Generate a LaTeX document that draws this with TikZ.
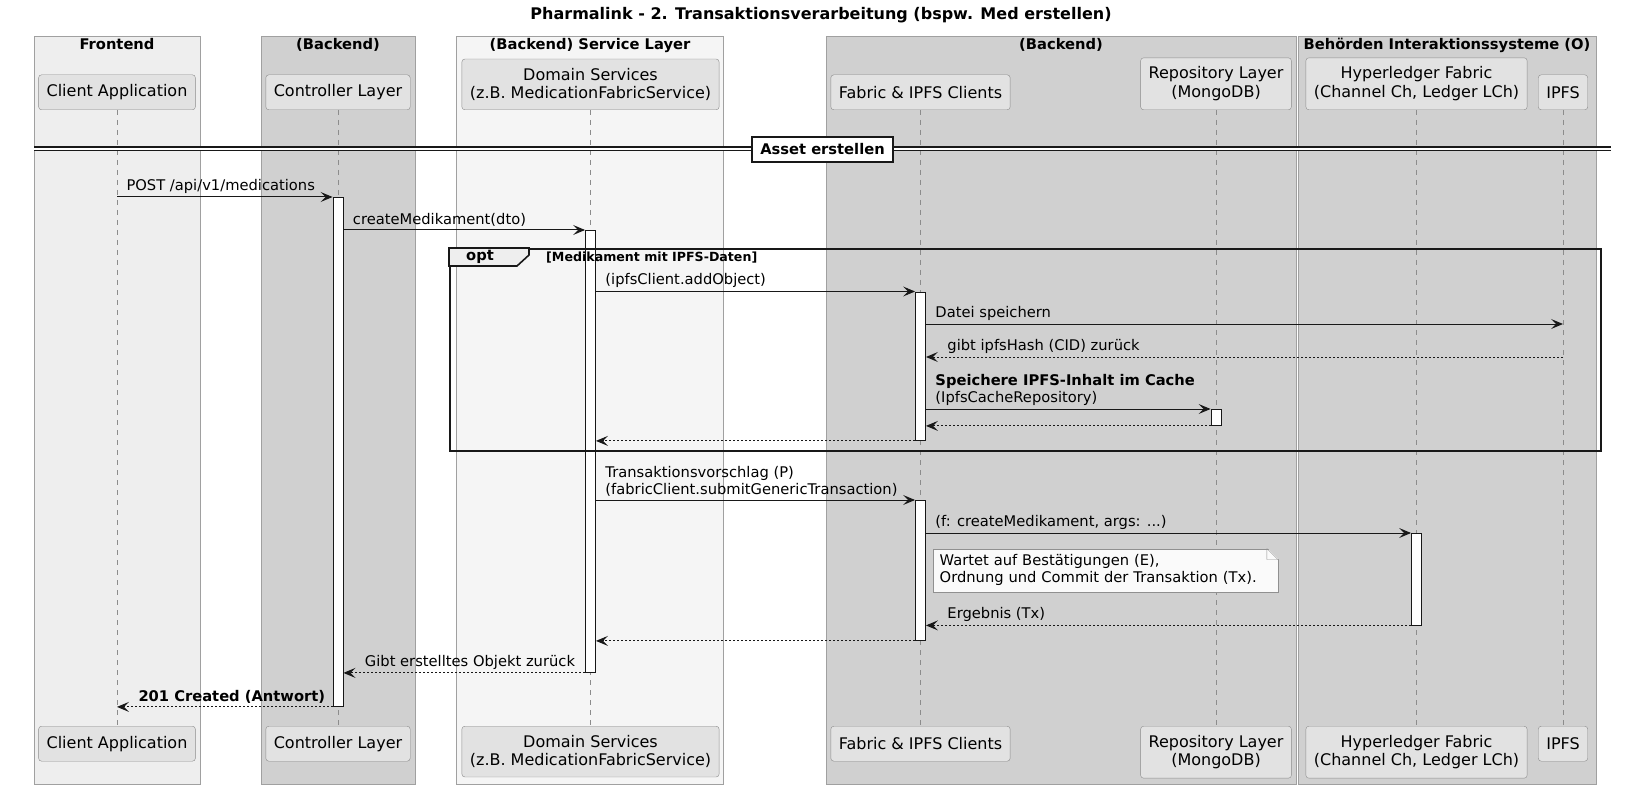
\documentclass[tikz,border=0pt]{standalone}
\usepackage{fontspec}
\setmainfont{DejaVu Sans}
\usepackage{tikz}
\usetikzlibrary{arrows.meta}

\definecolor{grpLight}{HTML}{EEEEEE}
\definecolor{grpDark}{HTML}{D0D0D0}
\definecolor{grpPale}{HTML}{F5F5F5}
\definecolor{grpLine}{HTML}{A0A0A0}
\definecolor{partFill}{HTML}{E2E2E2}
\definecolor{partLine}{HTML}{8C8C8C}
\definecolor{lifeLine}{HTML}{8C8C8C}
\definecolor{lineDark}{HTML}{181818}
\definecolor{noteFill}{HTML}{FAFAFA}
\definecolor{noteLine}{HTML}{909090}

\newcommand\partfont{\fontsize{16}{18.5}\selectfont}
\newcommand\msgfont{\fontsize{14.7}{17}\selectfont}
\newcommand\boldfont{\bfseries\fontsize{14.7}{17}\selectfont}

\begin{document}
\begin{tikzpicture}[x=1pt, y=-1pt,
    grp/.style={draw=grpLine, line width=0.8pt},
    gtitle/.style={font=\boldfont, inner sep=0, anchor=base},
    part/.style={draw=partLine, fill=partFill, rounded corners=3pt, font=\partfont,
      align=center, inner xsep=8pt, inner ysep=9pt, minimum height=35pt},
    life/.style={draw=lifeLine, line width=0.8pt, dash pattern=on 5pt off 5pt},
    act/.style={draw=lineDark, fill=white, line width=0.9pt, minimum width=10pt, inner sep=0},
    msg/.style={draw=lineDark, line width=1pt, -{Stealth[length=12pt, width=10pt, inset=5pt]}},
    ret/.style={msg, dash pattern=on 2pt off 2pt},
    lbl/.style={anchor=south west, font=\msgfont, inner sep=0, align=left, yshift=3pt},
    lto/.style={lbl, pos=0, xshift=9pt},
    lback/.style={lbl, pos=1, xshift=21pt},
    frame/.style={draw=lineDark, line width=1.6pt},
    note/.style={draw=noteLine, fill=noteFill, font=\msgfont, align=left,
      text width=331pt, inner xsep=7pt, inner ysep=6pt}]
  \path[fill=white, use as bounding box] (0,0) rectangle (1632,802);

  \node[font=\bfseries\fontsize{16}{19}\selectfont, inner sep=0, anchor=base] (title) at (821,19.5)
    {Pharmalink - 2. Transaktionsverarbeitung (bspw. Med erstellen)};

  \draw[grp, fill=grpLight] (34,36) rectangle (200,784);
  \draw[grp, fill=grpDark] (261,36) rectangle (415,784);
  \draw[grp, fill=grpPale] (456.5,36) rectangle (723.5,784);
  \draw[grp, fill=grpDark] (826,36) rectangle (1296,784);
  \draw[grp, fill=grpDark] (1298.5,36) rectangle (1596,784);
  \node[gtitle] (gfront) at (117,49.5) {Frontend};
  \node[gtitle] (gback) at (338,49.5) {(Backend)};
  \node[gtitle] (gsvc) at (590,49.5) {(Backend) Service Layer};
  \node[gtitle] (gbackb) at (1061,49.5) {(Backend)};
  \node[gtitle] (gauth) at (1447,49.5) {Behörden Interaktionssysteme (O)};

  \node[part, anchor=south] (topcli) at (117,110) {Client Application};
  \node[part, anchor=south] (topctl) at (338,110) {Controller Layer};
  \node[part, anchor=south] (topdom) at (590.5,110) {Domain Services\\(z.B. MedicationFabricService)};
  \node[part, anchor=south] (topfab) at (920.5,110) {Fabric \& IPFS Clients};
  \node[part, anchor=south] (toprep) at (1216,110) {Repository Layer\\(MongoDB)};
  \node[part, anchor=south] (tophlf) at (1416.5,110) {Hyperledger Fabric\\(Channel Ch, Ledger LCh)};
  \node[part, anchor=south] (topipf) at (1563,110) {IPFS};
  \node[part, anchor=north] (botcli) at (117,726) {Client Application};
  \node[part, anchor=north] (botctl) at (338,726) {Controller Layer};
  \node[part, anchor=north] (botdom) at (590.5,726) {Domain Services\\(z.B. MedicationFabricService)};
  \node[part, anchor=north] (botfab) at (920.5,726) {Fabric \& IPFS Clients};
  \node[part, anchor=north] (botrep) at (1216,726) {Repository Layer\\(MongoDB)};
  \node[part, anchor=north] (bothlf) at (1416.5,726) {Hyperledger Fabric\\(Channel Ch, Ledger LCh)};
  \node[part, anchor=north] (botipf) at (1563,726) {IPFS};
  \draw[life] (topcli) -- (botcli);
  \draw[life] (topctl) -- (botctl);
  \draw[life] (topdom) -- (botdom);
  \draw[life] (topfab) -- (botfab);
  \draw[life] (toprep) -- (botrep);
  \draw[life] (tophlf) -- (bothlf);
  \draw[life] (topipf) -- (botipf);

  \coordinate (divl) at (34,149);
  \coordinate (divr) at (1611,149);
  \draw[draw=lineDark, line width=1.2pt, double=white, double distance=2.6pt] (divl) -- (divr);
  \node[draw=lineDark, line width=2pt, fill=white, font=\boldfont, inner xsep=8pt,
    minimum height=25pt] (div) at (822.5,149.5) {Asset erstellen};

  \node[act, minimum height=509pt, anchor=north] (actctl) at (338,197) {};
  \node[act, minimum height=442pt, anchor=north] (actdom) at (590.5,230) {};
  \node[act, minimum height=148.5pt, anchor=north] (actfab) at (920.5,291.5) {};
  \node[act, minimum height=16pt, anchor=north] (actrep) at (1216,409) {};
  \node[act, minimum height=140pt, anchor=north] (actfabb) at (920.5,500) {};
  \node[act, minimum height=91.5pt, anchor=north] (acthlf) at (1416.5,533) {};
  \coordinate (save) at (0,324);
  \coordinate (hash) at (0,357);

  \node[frame, minimum width=1151pt, minimum height=202pt, anchor=north west] (opt) at (449,248) {};
  \draw[frame, fill=grpLight] (opt.north west) -- ++(80,0) -- ++(0,7) -- ++(-12,11) -- ++(-68,0) -- cycle;
  \node[font=\boldfont, inner sep=0] (optlbl) at (480,257) {opt};
  \node[font=\bfseries\fontsize{12.6}{15}\selectfont, inner sep=0, anchor=west] (optcond)
    at (546,257.5) {[Medikament mit IPFS-Daten]};

  \draw[msg] (topcli.south |- actctl.north) -- (actctl.north west)
    node[lto] {POST /api/v1/medications};
  \draw[msg] (actctl.east |- actdom.north) -- (actdom.north west)
    node[lto] {createMedikament(dto)};
  \draw[msg] (actdom.east |- actfab.north) -- (actfab.north west)
    node[lto] {(ipfsClient.addObject)};
  \draw[msg] (actfab.east |- save) -- (topipf.south |- save)
    node[lto] {Datei speichern};
  \draw[ret] (topipf.south |- hash) -- (actfab.east |- hash)
    node[lback] {gibt ipfsHash (CID) zurück};
  \draw[msg] (actfab.east |- actrep.north) -- (actrep.north west)
    node[lto] {\textbf{Speichere IPFS-Inhalt im Cache}\\(IpfsCacheRepository)};
  \draw[ret] (actrep.south west) -- (actfab.east |- actrep.south);
  \draw[ret] (actfab.south west) -- (actdom.east |- actfab.south);
  \draw[msg] (actdom.east |- actfabb.north) -- (actfabb.north west)
    node[lto] {Transaktionsvorschlag (P)\\(fabricClient.submitGenericTransaction)};
  \draw[msg] (actfabb.east |- acthlf.north) -- (acthlf.north west)
    node[lto] {(f: createMedikament, args: ...)};
  \draw[ret] (acthlf.south west) -- (actfabb.east |- acthlf.south)
    node[lback] {Ergebnis (Tx)};
  \draw[ret] (actfabb.south west) -- (actdom.east |- actfabb.south);
  \draw[ret] (actdom.south west) -- (actctl.east |- actdom.south)
    node[lback] {Gibt erstelltes Objekt zurück};
  \draw[ret] (actctl.south west) -- (topcli.south |- actctl.south)
    node[lback] {\textbf{201 Created (Antwort)}};

  \node[note, anchor=north west] (note) at (932.5,548.5)
    {Wartet auf Bestätigungen (E),\\Ordnung und Commit der Transaktion (Tx).};
  \fill[grpDark] ([xshift=-11pt, yshift=1pt]note.north east) -- ([xshift=1pt, yshift=1pt]note.north east)
    -- ([xshift=1pt, yshift=-11pt]note.north east) -- cycle;
  \draw[draw=noteLine] ([xshift=-11pt]note.north east) -- ([yshift=-11pt]note.north east)
    ([xshift=-11pt]note.north east) |- ([yshift=-11pt]note.north east);
\end{tikzpicture}
\end{document}
